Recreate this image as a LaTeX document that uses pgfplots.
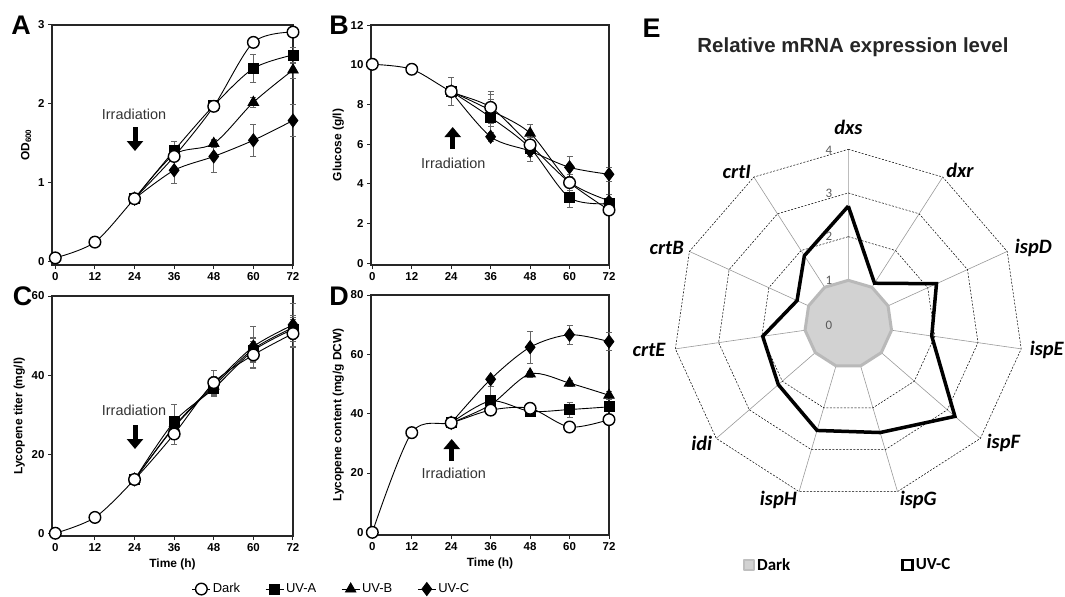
\documentclass[border=0pt]{standalone}
\usepackage{fontspec}
\setmainfont{Liberation Sans}
\newfontfamily\carlito{Carlito}
\usepackage{pgfplots}
\usepackage{pgfplotstable}
\pgfplotsset{compat=1.18}
\usepgfplotslibrary{polar}
\usetikzlibrary{arrows.meta}

\newcommand{\fs}[1]{\fontsize{#1}{#1}\selectfont}

% ---- A: OD600 ----
\pgfplotstableread{
t y e
0 0.05 0
12 0.25 0
24 0.80 0
36 1.335 0
48 1.97 0
60 2.78 0
72 2.91 0
}\Adark
\pgfplotstableread{
t y e
24 0.80 0
36 1.41 0.12
48 1.98 0.05
60 2.45 0.18
72 2.62 0.10
}\Auva
\pgfplotstableread{
t y e
24 0.80 0
36 1.36 0.08
48 1.50 0.05
60 2.02 0.06
72 2.43 0.10
}\Auvb
\pgfplotstableread{
t y e
24 0.80 0
36 1.16 0.17
48 1.335 0.20
60 1.54 0.20
72 1.79 0.20
}\Auvc

% ---- B: glucose ----
\pgfplotstableread{
t y e
0 10.02 0
12 9.77 0
24 8.65 0.72
36 7.85 0.80
48 5.96 0.40
60 4.06 0.40
72 2.68 0.20
}\Bdark
\pgfplotstableread{
t y e
24 8.65 0
36 7.35 0.90
48 5.80 0.40
60 3.30 0.50
72 3.00 0.30
}\Buva
\pgfplotstableread{
t y e
24 8.65 0
36 7.70 0.80
48 6.55 0.45
60 4.10 0.30
72 3.15 0.30
}\Buvb
\pgfplotstableread{
t y e
24 8.65 0
36 6.37 0.25
48 5.65 0.50
60 4.83 0.55
72 4.48 0.35
}\Buvc

% ---- C: lycopene titer ----
\pgfplotstableread{
t y e
0 0 0
12 4.0 0
24 13.6 0
36 25.1 2.5
48 38.1 3.2
60 45.1 3.5
72 50.5 3.5
}\Cdark
\pgfplotstableread{
t y e
24 13.6 0
36 28.2 4.5
48 36.6 2.0
60 46.2 3.0
72 51.6 3.0
}\Cuva
\pgfplotstableread{
t y e
24 13.6 0
36 26.8 2.0
48 37.2 2.0
60 46.6 3.0
72 52.0 3.0
}\Cuvb
\pgfplotstableread{
t y e
24 13.6 0
36 27.0 2.0
48 37.6 2.0
60 47.2 5.2
72 52.7 5.5
}\Cuvc

% ---- D: lycopene content ----
\pgfplotstableread{
t y e
0 0 0
12 33.6 0
24 36.9 0
36 41.2 1.5
48 41.8 1.5
60 35.5 1.0
72 38.0 1.0
}\Ddark
\pgfplotstableread{
t y e
24 36.9 0
36 44.3 5.0
48 40.8 1.0
60 41.4 2.5
72 42.3 1.5
}\Duva
\pgfplotstableread{
t y e
24 36.9 0
36 43.0 2.0
48 53.4 1.0
60 50.3 1.0
72 46.2 1.5
}\Duvb
\pgfplotstableread{
t y e
24 36.9 0
36 51.6 1.0
48 62.4 5.3
60 66.6 3.3
72 64.3 3.0
}\Duvc

% ---- E: radar (angle of each gene axis, relative expression) ----
\pgfplotstableread{
a dark uvc
90.00 1 2.70
57.27 1 1.11
24.55 1 2.22
351.82 1 1.93
319.09 1 3.23
286.36 1 2.59
253.64 1 2.54
220.91 1 2.12
188.18 1 1.98
155.45 1 1.29
122.73 1 1.86
90.00 1 2.70
}\radar

\pgfplotsset{
  panel/.style={
    scale only axis, height=240bp,
    xmin=-1, xmax=72, xtick={0,12,...,72},
    tick align=outside, tick pos=left,
    axis line style={line width=1.1bp, black!85},
    major tick length=4bp,
    tick style={line width=1bp, black!85},
    tick label style={font=\bfseries\fs{11.5}},
    label style={font=\bfseries\fs{12}},
    /pgf/number format/assume math mode=true,
    clip=false,
    every axis plot/.append style={black, line width=0.9bp, smooth},
    error bars/y dir=both, error bars/y explicit,
    error bars/error bar style={line width=0.6bp, black!60},
    error bars/error mark options={rotate=90, mark size=3bp, line width=0.6bp, black!60},
  },
  sdark/.style={mark=*, mark size=5.8bp, mark options={fill=white, draw=black, line width=1.4bp}},
  suva/.style={mark=square*, mark size=5bp, mark options={fill=black}},
  suvb/.style={mark=triangle*, mark size=6bp, mark options={fill=black}},
  suvc/.style={mark=diamond*, mark size=6.5bp, mark options={fill=black}},
}

\newcommand{\series}[4]{%
  \addplot[suvc] table[x=t, y=y, y error=e] {#4};
  \addplot[suvb] table[x=t, y=y, y error=e] {#3};
  \addplot[suva] table[x=t, y=y, y error=e] {#2};
  \addplot[sdark] table[x=t, y=y, y error=e] {#1};
}

\begin{document}
\begin{tikzpicture}
\useasboundingbox (0,0) rectangle (1065bp,-597bp);

% A
\begin{axis}[panel, at={(52bp,-265bp)}, anchor=south west, width=241bp,
  ymin=-0.04, ymax=3, ytick={0,1,2,3}, ylabel={OD\textsubscript{600}}]
\series{\Adark}{\Auva}{\Auvb}{\Auvc}
\end{axis}

% B
\begin{axis}[panel, at={(371bp,-265bp)}, anchor=south west, width=238bp,
  xmin=-0.4, ymin=-0.09, ymax=12, ytick={0,2,...,12}, ylabel={Glucose (g/l)}]
\series{\Bdark}{\Buva}{\Buvb}{\Buvc}
\end{axis}

% C
\begin{axis}[panel, at={(52bp,-536bp)}, anchor=south west, width=241bp,
  ymin=-0.7, ymax=60, ytick={0,20,40,60},
  xlabel={Time (h)}, ylabel={Lycopene titer (mg/l)},
  reverse legend, legend columns=4,
  legend style={at={(1.160,-0.221)}, anchor=center, draw=none, fill=none,
    font=\fs{13}, /tikz/every even column/.append style={column sep=23bp}},
  legend image code/.code={\draw[mark repeat=2, mark phase=2, #1]
    plot coordinates {(0bp,0bp) (9bp,0bp) (18bp,0bp)};}]
\series{\Cdark}{\Cuva}{\Cuvb}{\Cuvc}
\legend{UV-C, UV-B, UV-A, Dark}
\end{axis}

% D
\begin{axis}[panel, at={(371bp,-535bp)}, anchor=south west, width=238bp,
  xmin=-0.4, ymin=-0.9, ymax=80, ytick={0,20,...,80},
  xlabel={Time (h)}, ylabel={Lycopene content (mg/g DCW)}]
\series{\Ddark}{\Duva}{\Duvb}{\Duvc}
\end{axis}

% E
\begin{polaraxis}[at={(848.3bp,-324bp)}, anchor=center,
  scale only axis, width=349.4bp, height=349.4bp,
  ymin=0, ymax=4, hide axis, clip=false,
  legend columns=2,
  legend style={at={(0.19,-0.19)}, anchor=west, draw=none, fill=none,
    font=\carlito\bfseries\fs{17}, /tikz/every even column/.append style={column sep=109bp}}]
\addplot[forget plot, gray!80, line width=0.6bp] coordinates {
  (90,4)(90,0)(57.27,4)(57.27,0)(24.55,4)(24.55,0)(351.82,4)(351.82,0)
  (319.09,4)(319.09,0)(286.36,4)(286.36,0)(253.64,4)(253.64,0)(220.91,4)(220.91,0)
  (188.18,4)(188.18,0)(155.45,4)(155.45,0)(122.73,4)(122.73,0)};
\addplot[forget plot, black, line width=0.5bp, dash pattern=on 2bp off 1.5bp] table[x=a, y expr=1] {\radar};
\addplot[forget plot, black, line width=0.5bp, dash pattern=on 2bp off 1.5bp] table[x=a, y expr=2] {\radar};
\addplot[forget plot, black, line width=0.5bp, dash pattern=on 2bp off 1.5bp] table[x=a, y expr=3] {\radar};
\addplot[forget plot, black, line width=0.5bp, dash pattern=on 2bp off 1.5bp] table[x=a, y expr=4] {\radar};
\addplot[fill=gray!35, draw=gray!55, line width=3bp, line join=round,
  legend image code/.code={\draw[fill=gray!35, draw=gray!50, line width=2bp] (0bp,-5bp) rectangle (10bp,5bp);}]
  table[x=a, y=dark] {\radar};
\addlegendentry{Dark}
\addplot[black, line width=3.5bp, line join=miter,
  legend image code/.code={\draw[fill=white, draw=black, line width=2.5bp] (0bp,-5bp) rectangle (10bp,5bp);}]
  table[x=a, y=uvc] {\radar};
\addlegendentry{UV-C}
\end{polaraxis}

% radar scale numbers and gene names
\begin{scope}[every node/.style={font=\carlito\fs{13}, text=black!65}]
\node at (829bp,-325bp) {0};
\node at (829bp,-280.3bp) {1};
\node at (829bp,-236.6bp) {2};
\node at (829bp,-193bp) {3};
\node at (829bp,-150bp) {4};
\end{scope}
\begin{scope}[every node/.style={font=\carlito\bfseries\itshape\fs{20.5}}]
\node at (848.3bp,-127bp) {dxs};
\node at (960bp,-170bp) {dxr};
\node at (1033.3bp,-248.3bp) {ispD};
\node at (1046.7bp,-350bp) {ispE};
\node at (1003.3bp,-443.3bp) {ispF};
\node at (918.3bp,-500bp) {ispG};
\node at (778.3bp,-500bp) {ispH};
\node at (701.7bp,-443.3bp) {idi};
\node at (649bp,-350bp) {crtE};
\node at (666.7bp,-248.3bp) {crtB};
\node at (736.7bp,-171.7bp) {crtI};
\end{scope}
\node[font=\bfseries\fs{20.5}, text=black!85] at (853bp,-47.5bp) {Relative mRNA expression level};

% panel letters
\begin{scope}[every node/.style={font=\bfseries\fs{27}}]
\node at (21bp,-25bp) {A};
\node at (339bp,-25bp) {B};
\node at (22.5bp,-296.7bp) {C};
\node at (339bp,-296bp) {D};
\node at (651.7bp,-28.3bp) {E};
\end{scope}

% irradiation marks
\begin{scope}[every node/.style={font=\fs{14.5}, text=black!80}]
\node at (134bp,-114bp) {Irradiation};
\node at (453.3bp,-163.3bp) {Irradiation};
\node at (134bp,-410bp) {Irradiation};
\node at (453.8bp,-473.3bp) {Irradiation};
\end{scope}
\begin{scope}[line width=5bp, -{Triangle[width=16bp,length=10bp]}]
\draw (135bp,-127bp) -- (135bp,-151bp);
\draw (452.7bp,-149bp) -- (452.7bp,-127bp);
\draw (135bp,-425bp) -- (135bp,-449bp);
\draw (451.7bp,-461bp) -- (451.7bp,-439bp);
\end{scope}
\end{tikzpicture}
\end{document}
